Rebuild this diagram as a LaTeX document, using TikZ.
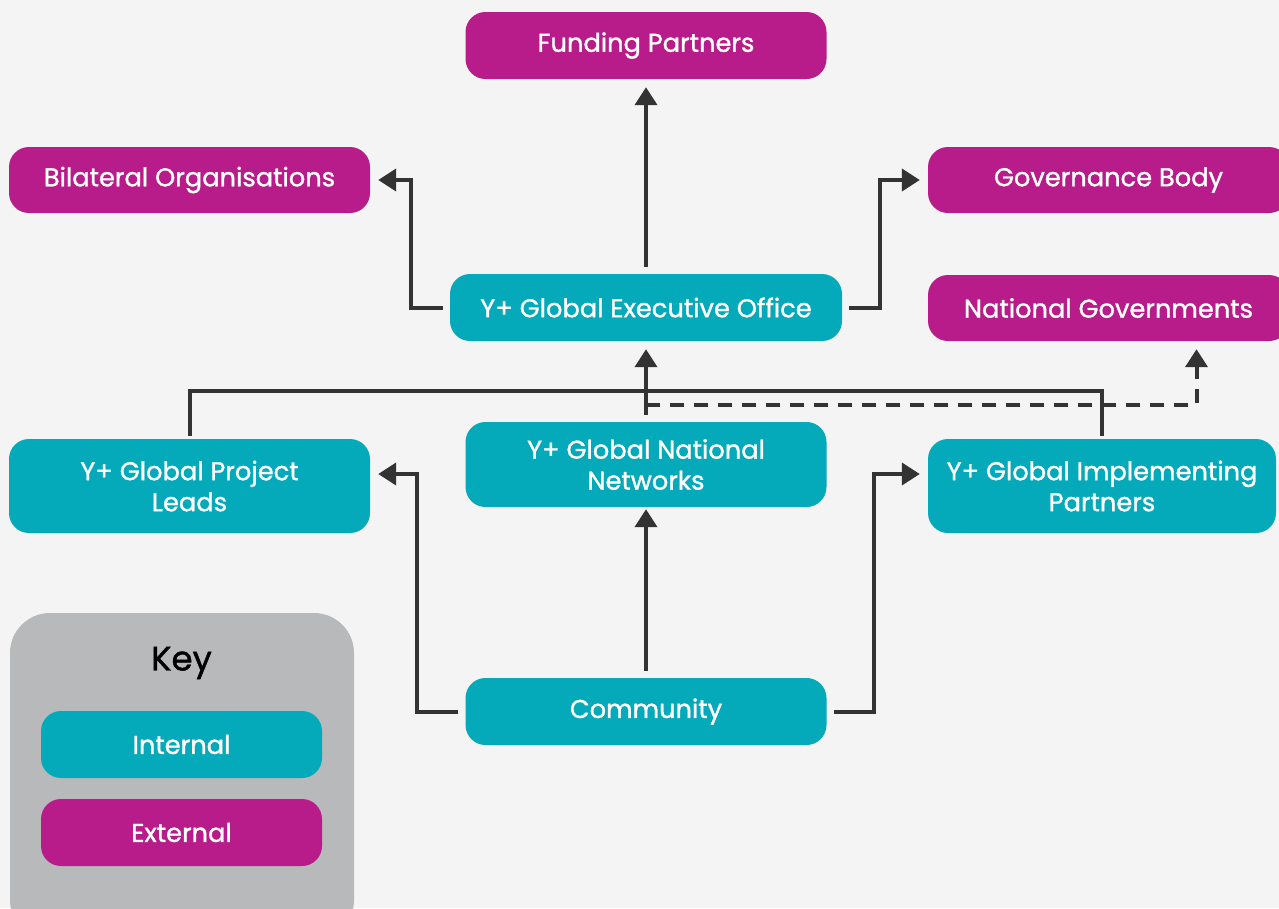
\documentclass[tikz,border=0pt]{standalone}
\usepackage{fontspec}
\setmainfont{Poppins}[FakeBold=1.2]
\usetikzlibrary{arrows.meta}
\definecolor{ygteal}{HTML}{04AABA}
\definecolor{ygmagenta}{HTML}{B81C8A}
\definecolor{yggrey}{HTML}{B8B9BB}
\definecolor{ygback}{HTML}{F4F4F4}
\definecolor{ygline}{HTML}{333333}
\tikzset{
  unit/.style={rounded corners=20pt, inner sep=0pt, text=white, align=center,
    font=\fontsize{25.7}{31}\selectfont},
  internal/.style={unit, fill=ygteal},
  external/.style={unit, fill=ygmagenta},
  link/.style={draw=ygline, line width=4pt},
  flow/.style={link, -{Triangle[length=18pt,width=22pt]}, shorten >=8pt, shorten <=7pt},
}
\begin{document}
\begin{tikzpicture}[x=1pt, y=-1pt]
			%%%%% START %%%%%
			
			\useasboundingbox[fill=ygback] (0, 0) rectangle (1279, 908);
			
			% external partners
			\node[external, minimum width=361pt, minimum height=67pt] (funding) at (646, 45.5) {Funding Partners};
			\node[external, minimum width=361pt, minimum height=66pt] (bilateral) at (189.5, 180) {Bilateral Organisations};
			\node[external, minimum width=361pt, minimum height=66pt] (governance) at (1108.5, 180) {Governance Body};
			\node[external, minimum width=361pt, minimum height=66pt] (natgov) at (1108.5, 308) {National Governments};
			
			% internal units
			\node[internal, minimum width=392pt, minimum height=67pt] (exec) at (646, 307.5) {Y+ Global Executive Office};
			\node[internal, minimum width=361pt, minimum height=94pt] (leads) at (189.5, 486) {Y+ Global Project\\Leads};
			\node[internal, minimum width=361pt, minimum height=85pt] (netw) at (646, 464.5) {Y+ Global National\\Networks};
			\node[internal, minimum width=348pt, minimum height=94pt] (impl) at (1102, 486) {Y+ Global Implementing\\Partners};
			\node[internal, minimum width=361pt, minimum height=67pt] (comm) at (646, 711.5) {Community};
			
			% key
			\fill[yggrey, rounded corners=40pt] (10, 613) rectangle (354, 940);
			\node[font=\fontsize{34}{38}\selectfont] (key) at (181.5, 663) {Key};
			\node[internal, minimum width=281pt, minimum height=67pt] (keyint) at (181.5, 744.5) {Internal};
			\node[external, minimum width=281pt, minimum height=67pt] (keyext) at (181.5, 832.5) {External};
			
			% connectors
			\draw[flow] (exec.north) -- (funding.south);
			\draw[flow] (exec.west) -- ++(-39, 0) |- (bilateral.east);
			\draw[flow] (exec.east) -- ++(38, 0) |- (governance.west);
			\draw[link, shorten <=3pt, shorten >=3pt] (leads.north) -- ++(0, -48) -| (impl.north);
			\draw[flow] (netw.north) -- (exec.south);
			\draw[flow, shorten <=0pt, dash pattern=on 14pt off 10pt] ([yshift=17pt]netw.north) -| ([xshift=88pt]natgov.south);
			\draw[flow, shorten >=2pt] (comm.north) -- (netw.south);
			\draw[flow] (comm.west) -- ++(-48, 0) |- ([yshift=12pt]leads.east);
			\draw[flow] (comm.east) -- ++(47, 0) |- ([yshift=12pt]impl.west);
			
			%%%%% END %%%%%
		\end{tikzpicture}
\end{document}
